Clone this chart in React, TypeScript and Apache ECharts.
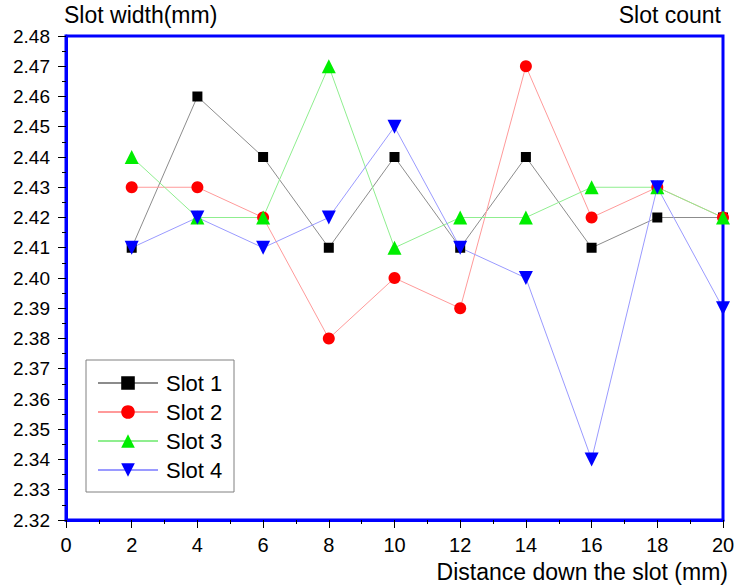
import React, { useEffect, useRef } from "react";
import * as echarts from "echarts";

const xValues = [2, 4, 6, 8, 10, 12, 14, 16, 18, 20];
const slot1 = [2.41, 2.46, 2.44, 2.41, 2.44, 2.41, 2.44, 2.41, 2.42, 2.42];
const slot2 = [2.43, 2.43, 2.42, 2.38, 2.40, 2.39, 2.47, 2.42, 2.43, 2.42];
const slot3 = [2.44, 2.42, 2.42, 2.47, 2.41, 2.42, 2.42, 2.43, 2.43, 2.42];
const slot4 = [2.41, 2.42, 2.41, 2.42, 2.45, 2.41, 2.40, 2.34, 2.43, 2.39];
const seriesNames = ["Slot 1", "Slot 2", "Slot 3", "Slot 4"];

const FONT = "Liberation Sans, Arial, sans-serif";

export default function App() {
  const ref = useRef<HTMLDivElement>(null);
  useEffect(() => {
    if (!ref.current) return;
    const chart = echarts.init(ref.current, undefined, { renderer: "svg" });
    const mk = (vals: number[]) => xValues.map((x, i) => [x, vals[i]]);
    const defs = [
      { name: seriesNames[0], data: slot1, color: "#000000", line: "#8c8c8c", symbol: "rect", size: 10, rotate: 0 },
      { name: seriesNames[1], data: slot2, color: "#ff0000", line: "#ff9a9a", symbol: "circle", size: 12, rotate: 0 },
      { name: seriesNames[2], data: slot3, color: "#00ee00", line: "#8fee8f", symbol: "triangle", size: 14, rotate: 0 },
      { name: seriesNames[3], data: slot4, color: "#0000ff", line: "#9a9aff", symbol: "triangle", size: 14, rotate: 180 },
    ];
    chart.setOption({
      animation: false,
      backgroundColor: "#ffffff",
      grid: {
        left: 66,
        top: 36,
        right: 19,
        bottom: 67,
        show: true,
        borderColor: "#0000ff",
        borderWidth: 3,
        backgroundColor: "transparent",
      },
      legend: {
        orient: "vertical",
        left: 97,
        top: 372,
        itemWidth: 60,
        itemHeight: 17,
        itemGap: 7,
        padding: [0, 0, 0, 0],
        textStyle: { fontFamily: FONT, fontSize: 22, color: "#000", padding: [0, 0, 0, 3] },
        data: seriesNames,
      },
      xAxis: {
        type: "value",
        min: 0,
        max: 20,
        interval: 2,
        axisLine: { show: true, lineStyle: { color: "#0000ff", width: 3 } },
        axisTick: { show: true, inside: false, length: 8, lineStyle: { color: "#000", width: 1 } },
        minorTick: { show: true, splitNumber: 2, length: 4, lineStyle: { color: "#000", width: 1 } },
        splitLine: { show: false },
        axisLabel: { margin: 15, fontFamily: FONT, fontSize: 20, color: "#000" },
      },
      yAxis: {
        type: "value",
        min: 2.32,
        max: 2.48,
        interval: 0.01,
        axisLine: { show: true, lineStyle: { color: "#0000ff", width: 3 } },
        axisTick: { show: true, inside: false, length: 8, lineStyle: { color: "#000", width: 1 } },
        minorTick: { show: true, splitNumber: 2, length: 4, lineStyle: { color: "#000", width: 1 } },
        splitLine: { show: false },
        axisLabel: {
          margin: 16,
          fontFamily: FONT,
          fontSize: 19,
          color: "#000",
          formatter: (v: number) => v.toFixed(2),
        },
      },
      series: defs.map((d) => ({
        type: "line",
        name: d.name,
        data: mk(d.data),
        symbol: d.symbol,
        symbolSize: d.size,
        symbolRotate: d.rotate,
        showAllSymbol: true,
        itemStyle: { color: d.color },
        lineStyle: { color: d.line, width: 1 },
        emphasis: { disabled: true },
      })),
      graphic: [
        {
          type: "rect",
          shape: { x: 86, y: 360, width: 148, height: 132 },
          style: { fill: "transparent", stroke: "#808080", lineWidth: 1 },
          z: 1,
        },
        {
          type: "text",
          left: 64,
          top: 3,
          style: { text: "Slot width(mm)", fontFamily: FONT, fontSize: 23, fill: "#000" },
        },
        {
          type: "text",
          right: 21,
          top: 3,
          style: { text: "Slot count", fontFamily: FONT, fontSize: 23, fill: "#000" },
        },
        {
          type: "text",
          right: 14,
          top: 560,
          style: { text: "Distance down the slot (mm)", fontFamily: FONT, fontSize: 23, fill: "#000" },
        },
      ],
    });
    return () => chart.dispose();
  }, []);
  return <div ref={ref} style={{ width: 742, height: 587, position: "absolute", left: 0, top: 0 }} />;
}
